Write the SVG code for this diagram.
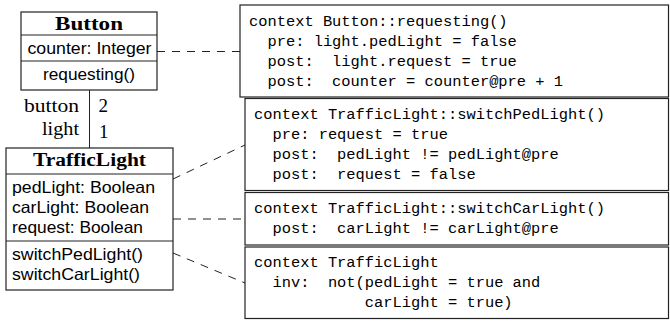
<svg xmlns="http://www.w3.org/2000/svg" width="670" height="322" viewBox="0 0 670 322">
<style>
.box{fill:#fff;stroke:#222;stroke-width:1.2}
.sep{stroke:#222;stroke-width:1.2}
.conn{stroke:#222;stroke-width:1;fill:none}
.dash{stroke:#222;stroke-width:1;fill:none;stroke-dasharray:8,7}
.title{font-family:"Liberation Serif",serif;font-weight:bold;font-size:18px;fill:#000}
.serif{font-family:"Liberation Serif",serif;font-size:19px;fill:#000}
.sans{font-family:"Liberation Sans",sans-serif;font-size:16.5px;fill:#000}
.mono{font-family:"Liberation Mono",monospace;font-size:15.4px;fill:#000;white-space:pre}
</style>
<rect width="670" height="322" fill="#fff"/>
<g id="connectors">
<line class="conn" x1="89.5" y1="90" x2="89.5" y2="148"/>
<line class="dash" x1="157" y1="51.5" x2="240" y2="51.5"/>
<line class="dash" x1="173" y1="179" x2="245" y2="145"/>
<line class="dash" x1="173" y1="219" x2="245" y2="219"/>
<line class="dash" x1="173" y1="253" x2="245" y2="283"/>
<text class="serif" x="79" y="111.5" text-anchor="end" textLength="55" lengthAdjust="spacingAndGlyphs">button</text>
<text class="serif" x="98.5" y="111.5">2</text>
<text class="serif" x="79" y="135" text-anchor="end" textLength="37" lengthAdjust="spacingAndGlyphs">light</text>
<text class="serif" x="99" y="137.5">1</text>
</g>
<g id="Button">
<rect class="box" x="21" y="12" width="136" height="78"/>
<line class="sep" x1="21" y1="35" x2="157" y2="35"/>
<line class="sep" x1="21" y1="61" x2="157" y2="61"/>
<text class="title" x="89" y="30" text-anchor="middle" textLength="68" lengthAdjust="spacingAndGlyphs">Button</text>
<text class="sans" x="89.5" y="53.5" text-anchor="middle" textLength="124" lengthAdjust="spacingAndGlyphs">counter:  Integer</text>
<text class="sans" x="89" y="80" text-anchor="middle" textLength="92" lengthAdjust="spacingAndGlyphs">requesting()</text>
</g>
<g id="TrafficLight">
<rect class="box" x="6" y="148" width="167" height="142"/>
<line class="sep" x1="6" y1="174" x2="173" y2="174"/>
<line class="sep" x1="6" y1="241" x2="173" y2="241"/>
<text class="title" x="89.5" y="166" text-anchor="middle" textLength="113" lengthAdjust="spacingAndGlyphs">TrafficLight</text>
<text class="sans" x="12" y="193" textLength="143" lengthAdjust="spacingAndGlyphs">pedLight:  Boolean</text>
<text class="sans" x="12" y="213" textLength="137" lengthAdjust="spacingAndGlyphs">carLight:  Boolean</text>
<text class="sans" x="12" y="233" textLength="131" lengthAdjust="spacingAndGlyphs">request:  Boolean</text>
<text class="sans" x="12" y="259.5" textLength="131" lengthAdjust="spacingAndGlyphs">switchPedLight()</text>
<text class="sans" x="12" y="279.5" textLength="128" lengthAdjust="spacingAndGlyphs">switchCarLight()</text>
</g>
<g id="ocl-requesting">
<rect class="box" x="240" y="5" width="428.5" height="92"/>
<text class="mono" x="249" y="26" xml:space="preserve">context Button::requesting()</text>
<text class="mono" x="249" y="46" xml:space="preserve">  pre: light.pedLight = false</text>
<text class="mono" x="249" y="66" xml:space="preserve">  post:  light.request = true</text>
<text class="mono" x="249" y="86" xml:space="preserve">  post:  counter = counter@pre + 1</text>
</g>
<g id="ocl-switchPedLight">
<rect class="box" x="245" y="98.5" width="423.5" height="92"/>
<text class="mono" x="254" y="119" xml:space="preserve">context TrafficLight::switchPedLight()</text>
<text class="mono" x="254" y="139" xml:space="preserve">  pre: request = true</text>
<text class="mono" x="254" y="159" xml:space="preserve">  post:  pedLight != pedLight@pre</text>
<text class="mono" x="254" y="179" xml:space="preserve">  post:  request = false</text>
</g>
<g id="ocl-switchCarLight">
<rect class="box" x="245" y="192.5" width="423.5" height="52.5"/>
<text class="mono" x="254" y="213" xml:space="preserve">context TrafficLight::switchCarLight()</text>
<text class="mono" x="254" y="233" xml:space="preserve">  post:  carLight != carLight@pre</text>
</g>
<g id="ocl-invariant">
<rect class="box" x="245" y="247" width="423.5" height="71.5"/>
<text class="mono" x="254" y="267" xml:space="preserve">context TrafficLight</text>
<text class="mono" x="254" y="287" xml:space="preserve">  inv:  not(pedLight = true and</text>
<text class="mono" x="254" y="307" xml:space="preserve">            carLight = true)</text>
</g>
</svg>
